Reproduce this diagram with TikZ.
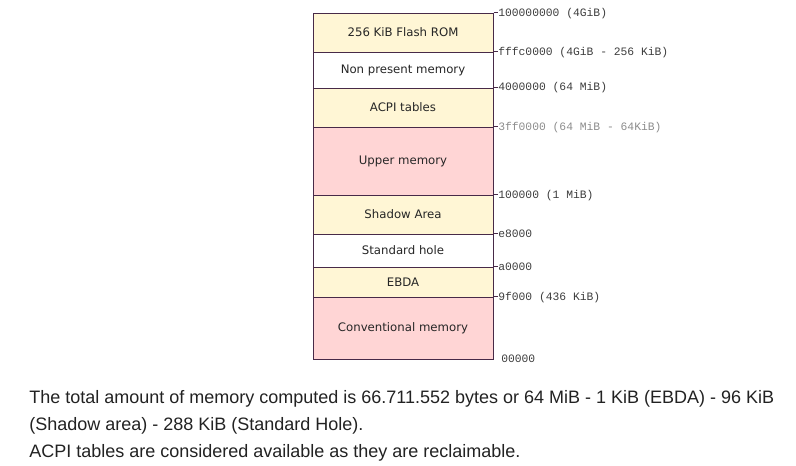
\documentclass[tikz,border=0pt]{standalone}
\usepackage{fontspec}
\setmainfont{Liberation Sans}
\newfontfamily\boxfont{DejaVu Sans}
\newfontfamily\addrfont{Liberation Mono}
\usetikzlibrary{fit}
\definecolor{romyellow}{RGB}{255,246,213}
\definecolor{mempink}{RGB}{255,213,213}
\definecolor{edge}{RGB}{72,42,72}
\definecolor{addrdark}{RGB}{60,60,60}
\definecolor{addrlight}{RGB}{140,140,140}
\definecolor{bodytext}{RGB}{34,34,34}
\tikzset{
  region/.style={draw=edge, line width=0.75pt, inner sep=0pt},
  regtext/.style={font=\boxfont\fontsize{8.8}{10}\selectfont, text=black!85},
  addr/.style={anchor=west, inner sep=0pt, font=\addrfont\fontsize{8.5}{10}\selectfont, text=addrdark},
  tick/.style={draw=edge, line width=0.75pt},
  caption/.style={anchor=base west, inner sep=0pt, text=bodytext, font=\fontsize{13.5}{13.5}\selectfont},
}
\begin{document}
\begin{tikzpicture}[x=0.75pt,y=-0.75pt]
\useasboundingbox (0,0) rectangle (796,465);
% regions
\node[region, fill=romyellow, fit={(313,13)(493,52)}, label={[regtext]center:256 KiB Flash ROM}] (rom) {};
\node[region, fill=white, fit={(313,52)(493,88)}, label={[regtext]center:Non present memory}] (nonpres) {};
\node[region, fill=romyellow, fit={(313,88)(493,127)}, label={[regtext]center:ACPI tables}] (acpi) {};
\node[region, fill=mempink, fit={(313,127)(493,195)}, label={[regtext]center:Upper memory}] (upper) {};
\node[region, fill=romyellow, fit={(313,195)(493,234)}, label={[regtext]center:Shadow Area}] (shadow) {};
\node[region, fill=white, fit={(313,234)(493,267)}, label={[regtext]center:Standard hole}] (hole) {};
\node[region, fill=romyellow, fit={(313,267)(493,297)}, label={[regtext]center:EBDA}] (ebda) {};
\node[region, fill=mempink, fit={(313,297)(493,359)}, label={[regtext]center:Conventional memory}] (conv) {};
% ticks
\foreach \n in {rom,nonpres,acpi,upper,shadow,hole,ebda,conv}
  \draw[tick] (\n.north east) -- ++(4,0);
% address labels
\node[addr] (a1) at (498,14) {100000000 (4GiB)};
\node[addr] (a2) at (498,53) {fffc0000 (4GiB - 256 KiB)};
\node[addr] (a3) at (498,88) {4000000 (64 MiB)};
\node[addr, text=addrlight] (a4) at (498,128) {3ff0000 (64 MiB - 64KiB)};
\node[addr] (a5) at (498,196) {100000 (1 MiB)};
\node[addr] (a6) at (498,234) {e8000};
\node[addr] (a7) at (498,267) {a0000};
\node[addr] (a8) at (498,298) {9f000 (436 KiB)};
\node[addr] (a9) at (501,359) {00000};
% caption
\node[caption] (l1) at (29,403) {The total amount of memory computed is 66.711.552 bytes or 64 MiB - 1 KiB (EBDA) - 96 KiB};
\node[caption] (l2) at (29,430) {(Shadow area) - 288 KiB (Standard Hole).};
\node[caption] (l3) at (29,457) {ACPI tables are considered available as they are reclaimable.};
\end{tikzpicture}
\end{document}
